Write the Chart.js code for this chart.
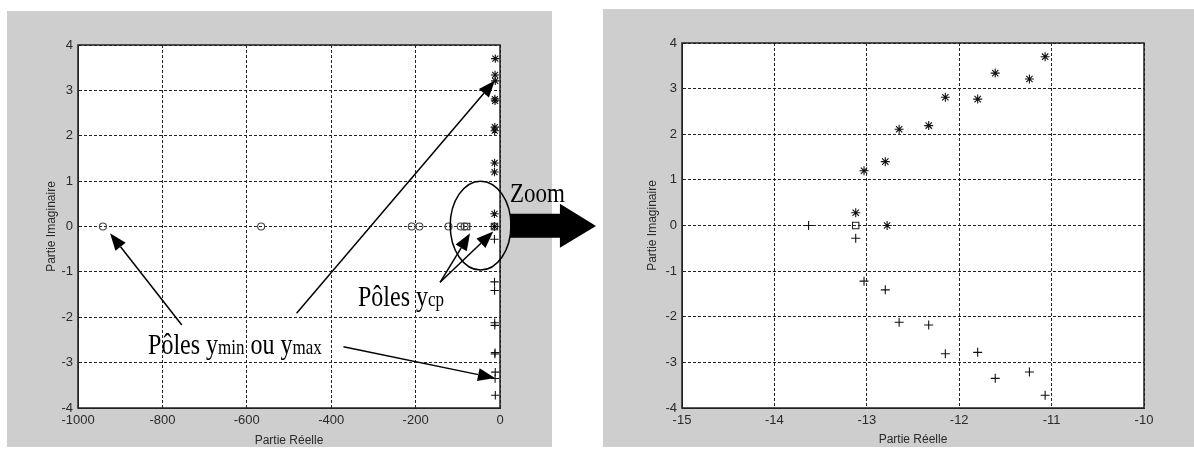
<!DOCTYPE html>
<html>
<head>
<meta charset="utf-8">
<script src="https://cdn.jsdelivr.net/npm/chart.js@4"></script>
<style>
  body { margin: 0; background: #fff; }
  #left { position: absolute; left: 0; top: 0; }
  #right { position: absolute; left: 600px; top: 0; }
</style>
</head>
<body>
<canvas id="left" width="600" height="450"></canvas>
<canvas id="right" width="594" height="450"></canvas>
<script>
const starRe = [-13.12, -12.78, -13.03, -12.80, -12.65, -12.33, -12.15, -11.80, -11.61, -11.24, -11.07];
const starIm = [0.28, 0.00, 1.20, 1.40, 2.11, 2.19, 2.81, 2.77, 3.34, 3.21, 3.70];
const plusRe = [-13.63, -13.12, -13.03, -12.80, -12.65, -12.33, -12.15, -11.80, -11.61, -11.24, -11.07];
const plusIm = [0.00, -0.28, -1.22, -1.41, -2.12, -2.18, -2.81, -2.78, -3.35, -3.21, -3.72];
// y_cp poles (squares)
const squareReLeft = [-79, -13.12];
const squareImLeft = [0, 0];
const squareReRight = [-13.12];
const squareImRight = [0];
// y_min / y_max poles (circles), only on the full view
const circleRe = [-941, -566, -209, -191, -122, -93, -84];
const circleIm = [0, 0, 0, 0, 0, 0, 0];

const pts = (xs, ys) => xs.map((x, i) => ({ x: x, y: ys[i] }));
const FONT = 'Liberation Sans';

function markers(style, r, color, xs, ys) {
  return {
    data: pts(xs, ys),
    pointStyle: style,
    pointRadius: r,
    pointBorderWidth: 1.1,
    borderColor: color,
    backgroundColor: 'rgba(0,0,0,0)',
    showLine: false
  };
}

function axes(xmin, xmax, xstep, yWidth, xTitlePad) {
  const grid = { color: '#222', drawTicks: false };
  const border = { color: '#222', width: 1, dash: [3, 2] };
  const tickFont = { family: FONT, size: 13 };
  const titleFont = { family: FONT, size: 12 };
  return {
    x: {
      type: 'linear', min: xmin, max: xmax,
      grid: grid, border: border,
      ticks: { stepSize: xstep, padding: 5, color: '#2a2a2a', font: tickFont, maxRotation: 0,
        callback: v => String(v) },
      title: { display: true, text: 'Partie Réelle', color: '#2a2a2a', font: titleFont,
        padding: { top: 0, bottom: xTitlePad } },
      afterFit: s => { s.height = 42; }
    },
    y: {
      type: 'linear', min: -4, max: 4,
      grid: grid, border: border,
      ticks: { stepSize: 1, padding: 5, color: '#2a2a2a', font: tickFont,
        callback: v => String(v) },
      title: { display: true, text: 'Partie Imaginaire', color: '#2a2a2a', font: titleFont,
        padding: { top: 0, bottom: 0 } },
      afterFit: s => { s.width = yWidth; }
    }
  };
}

const framePlugin = {
  id: 'frame',
  beforeDraw(chart, args, opts) {
    const ctx = chart.ctx, a = chart.chartArea;
    ctx.save();
    ctx.fillStyle = '#cecece';
    ctx.fillRect(opts.bg[0], opts.bg[1], opts.bg[2], opts.bg[3]);
    ctx.fillStyle = '#fff';
    ctx.fillRect(a.left, a.top, a.right - a.left, a.bottom - a.top);
    ctx.restore();
  },
  afterDatasetsDraw(chart) {
    const ctx = chart.ctx, a = chart.chartArea;
    ctx.save();
    ctx.strokeStyle = '#222';
    ctx.lineWidth = 1.5;
    ctx.strokeRect(a.left, a.top, a.right - a.left, a.bottom - a.top);
    ctx.restore();
  }
};

// annotations of the full view, placed in data units
const arrowFrom = [[-754, -2.17], [-482, -1.91], [-371, -2.65], [-142, -1.23], [-142, -1.23]];
const arrowTo = [[-924, -0.15], [-12, 3.22], [-12, -3.34], [-71, -0.15], [-16, -0.11]];

function arrow(ctx, x1, y1, x2, y2, len, half) {
  const ang = Math.atan2(y2 - y1, x2 - x1);
  const bx = x2 - len * Math.cos(ang), by = y2 - len * Math.sin(ang);
  ctx.beginPath(); ctx.moveTo(x1, y1); ctx.lineTo(bx, by); ctx.stroke();
  ctx.beginPath(); ctx.moveTo(x2, y2);
  ctx.lineTo(bx + half * Math.sin(ang), by - half * Math.cos(ang));
  ctx.lineTo(bx - half * Math.sin(ang), by + half * Math.cos(ang));
  ctx.closePath(); ctx.fill();
}

function richText(ctx, x, y, parts) {
  let cx = x;
  parts.forEach(([t, size]) => {
    ctx.font = size + 'px "Liberation Serif"';
    ctx.save(); ctx.translate(cx, y); ctx.scale(1, 1.2); ctx.fillText(t, 0, 0); ctx.restore();
    cx += ctx.measureText(t).width;
  });
}

const notesPlugin = {
  id: 'notes',
  afterDraw(chart) {
    const ctx = chart.ctx, sx = chart.scales.x, sy = chart.scales.y;
    const px = v => sx.getPixelForValue(v), py = v => sy.getPixelForValue(v);
    ctx.save();
    ctx.strokeStyle = '#000'; ctx.fillStyle = '#000'; ctx.lineWidth = 1.5;
    arrowFrom.forEach((f, i) => {
      const t = arrowTo[i];
      arrow(ctx, px(f[0]), py(f[1]), px(t[0]), py(t[1]), 17, 6.5);
    });
    // ellipse round the poles near zero
    const cx = px(-46), cy = py(0.02);
    ctx.beginPath();
    ctx.ellipse(cx, cy, px(26) - cx, cy - py(1.0), 0, 0, Math.PI * 2);
    ctx.stroke();
    // big arrow pointing to the zoomed view
    ctx.beginPath();
    ctx.moveTo(px(23.7), py(0.28));
    ctx.lineTo(px(142), py(0.28));
    ctx.lineTo(px(142), py(0.50));
    ctx.lineTo(px(227.5), py(0.01));
    ctx.lineTo(px(142), py(-0.47));
    ctx.lineTo(px(142), py(-0.25));
    ctx.lineTo(px(23.7), py(-0.25));
    ctx.closePath(); ctx.fill();
    ctx.textBaseline = 'alphabetic';
    richText(ctx, px(23.7), py(0.55), [['Zoom', 23]]);
    richText(ctx, px(-834), py(-2.81), [['Pôles ', 24], ['y', 24], ['min', 17], [' ou ', 24], ['y', 24], ['max', 17]]);
    richText(ctx, px(-336.5), py(-1.75), [['Pôles ', 24], ['y', 24], ['cp', 17]]);
    ctx.restore();
  }
};

new Chart(document.getElementById('left'), {
  type: 'scatter',
  data: {
    datasets: [
      markers('circle', 3.5, '#444', circleRe, circleIm),
      markers('rect', 4.5, '#222', squareReLeft, squareImLeft),
      markers('star', 4.2, '#111', starRe, starIm),
      markers('cross', 4.2, '#111', plusRe, plusIm)
    ]
  },
  options: {
    responsive: false,
    animation: false,
    layout: { padding: { left: 44, right: 100, top: 45, bottom: 0 } },
    plugins: { legend: { display: false }, tooltip: { enabled: false },
      frame: { bg: [7, 11, 545, 436] } },
    scales: axes(-1000, 0, 200, 34, 1.8)
  },
  plugins: [framePlugin, notesPlugin]
});

new Chart(document.getElementById('right'), {
  type: 'scatter',
  data: {
    datasets: [
      markers('rect', 4.5, '#222', squareReRight, squareImRight),
      markers('star', 4.5, '#111', starRe, starIm),
      markers('cross', 4.5, '#111', plusRe, plusIm)
    ]
  },
  options: {
    responsive: false,
    animation: false,
    layout: { padding: { left: 45, right: 50, top: 43, bottom: 0 } },
    plugins: { legend: { display: false }, tooltip: { enabled: false },
      frame: { bg: [3, 9, 591, 438] } },
    scales: axes(-15, -10, 1, 37, 3.3)
  },
  plugins: [framePlugin]
});
</script>
</body>
</html>
